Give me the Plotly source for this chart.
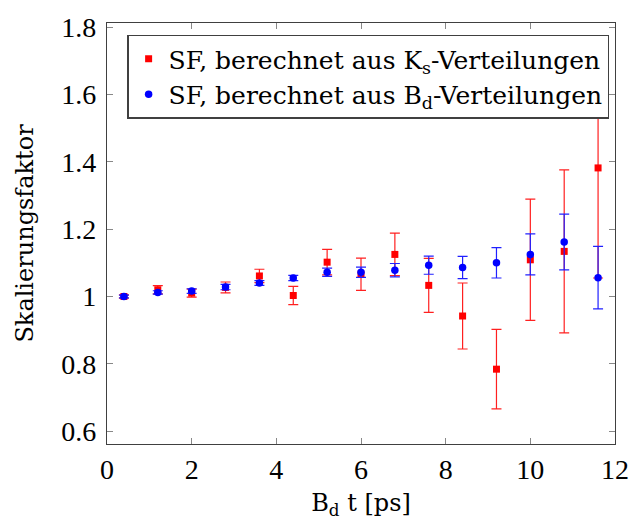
import plotly.graph_objects as go

# Data
t_bins = [0.4, 1.2, 2.0, 2.8, 3.6, 4.4, 5.2, 6.0, 6.8, 7.6, 8.4, 9.2, 10.0, 10.8, 11.6]
sf_ks = [1.000, 1.020, 1.010, 1.027, 1.061, 1.003, 1.102, 1.066, 1.125, 1.033, 0.942, 0.784, 1.109, 1.134, 1.382]
sf_ks_err = [0.005, 0.012, 0.012, 0.016, 0.020, 0.027, 0.038, 0.048, 0.063, 0.080, 0.098, 0.118, 0.180, 0.242, 0.327]
sf_bd = [1.000, 1.012, 1.016, 1.028, 1.040, 1.055, 1.072, 1.072, 1.078, 1.093, 1.086, 1.100, 1.125, 1.162, 1.056]
sf_bd_err = [0.004, 0.005, 0.007, 0.008, 0.007, 0.008, 0.012, 0.015, 0.020, 0.027, 0.033, 0.045, 0.061, 0.083, 0.093]

x_ticks = [0, 2, 4, 6, 8, 10, 12]
y_ticks = [0.6, 0.8, 1.0, 1.2, 1.4, 1.6, 1.8]
y_ticklabels = ["0.6", "0.8", "1", "1.2", "1.4", "1.6", "1.8"]

TEXT_FONT = "DejaVu Serif"
TICK_FONT = "Liberation Serif"

fig = go.Figure()
fig.add_trace(go.Scatter(
    x=t_bins, y=sf_ks, mode="markers",
    name="SF, berechnet aus K<sub>s</sub>-Verteilungen",
    marker=dict(symbol="square", size=7, color="#ff0000"),
    error_y=dict(type="data", array=sf_ks_err, color="#ff2020", thickness=1.2, width=5),
))
fig.add_trace(go.Scatter(
    x=t_bins, y=sf_bd, mode="markers",
    name="SF, berechnet aus B<sub>d</sub>-Verteilungen",
    marker=dict(symbol="circle", size=7.5, color="#0000ff"),
    error_y=dict(type="data", array=sf_bd_err, color="#2020ff", thickness=1.2, width=5),
))

axis_common = dict(
    showline=True, linecolor="#404040", linewidth=1.3, mirror="ticks",
    ticks="inside", ticklen=6, tickcolor="#888888", tickwidth=1,
    showgrid=False, zeroline=False,
    tickfont=dict(family=TICK_FONT, size=28, color="black"),
)

fig.update_layout(
    width=641, height=526,
    margin=dict(l=107, r=16, t=14, b=82),
    paper_bgcolor="white", plot_bgcolor="white",
    font=dict(family=TEXT_FONT, size=24, color="black"),
    showlegend=True,
    legend=dict(
        x=0.04, y=0.972, xanchor="left", yanchor="top",
        bgcolor="white", bordercolor="#404040", borderwidth=1.3,
        font=dict(family=TEXT_FONT, size=25, color="black"),
        itemwidth=30, tracegroupgap=0,
    ),
    xaxis=dict(
        range=[0, 12], tickvals=x_ticks,
        title=dict(text="B<sub>d</sub> t [ps]", font=dict(family=TEXT_FONT, size=24), standoff=10),
        **axis_common,
    ),
    yaxis=dict(
        range=[0.5617, 1.8126], tickvals=y_ticks, ticktext=y_ticklabels,
        ticklabelstandoff=4,
        title=dict(text="Skalierungsfaktor", font=dict(family=TEXT_FONT, size=24), standoff=20),
        **axis_common,
    ),
)

fig.write_html("out.html")
